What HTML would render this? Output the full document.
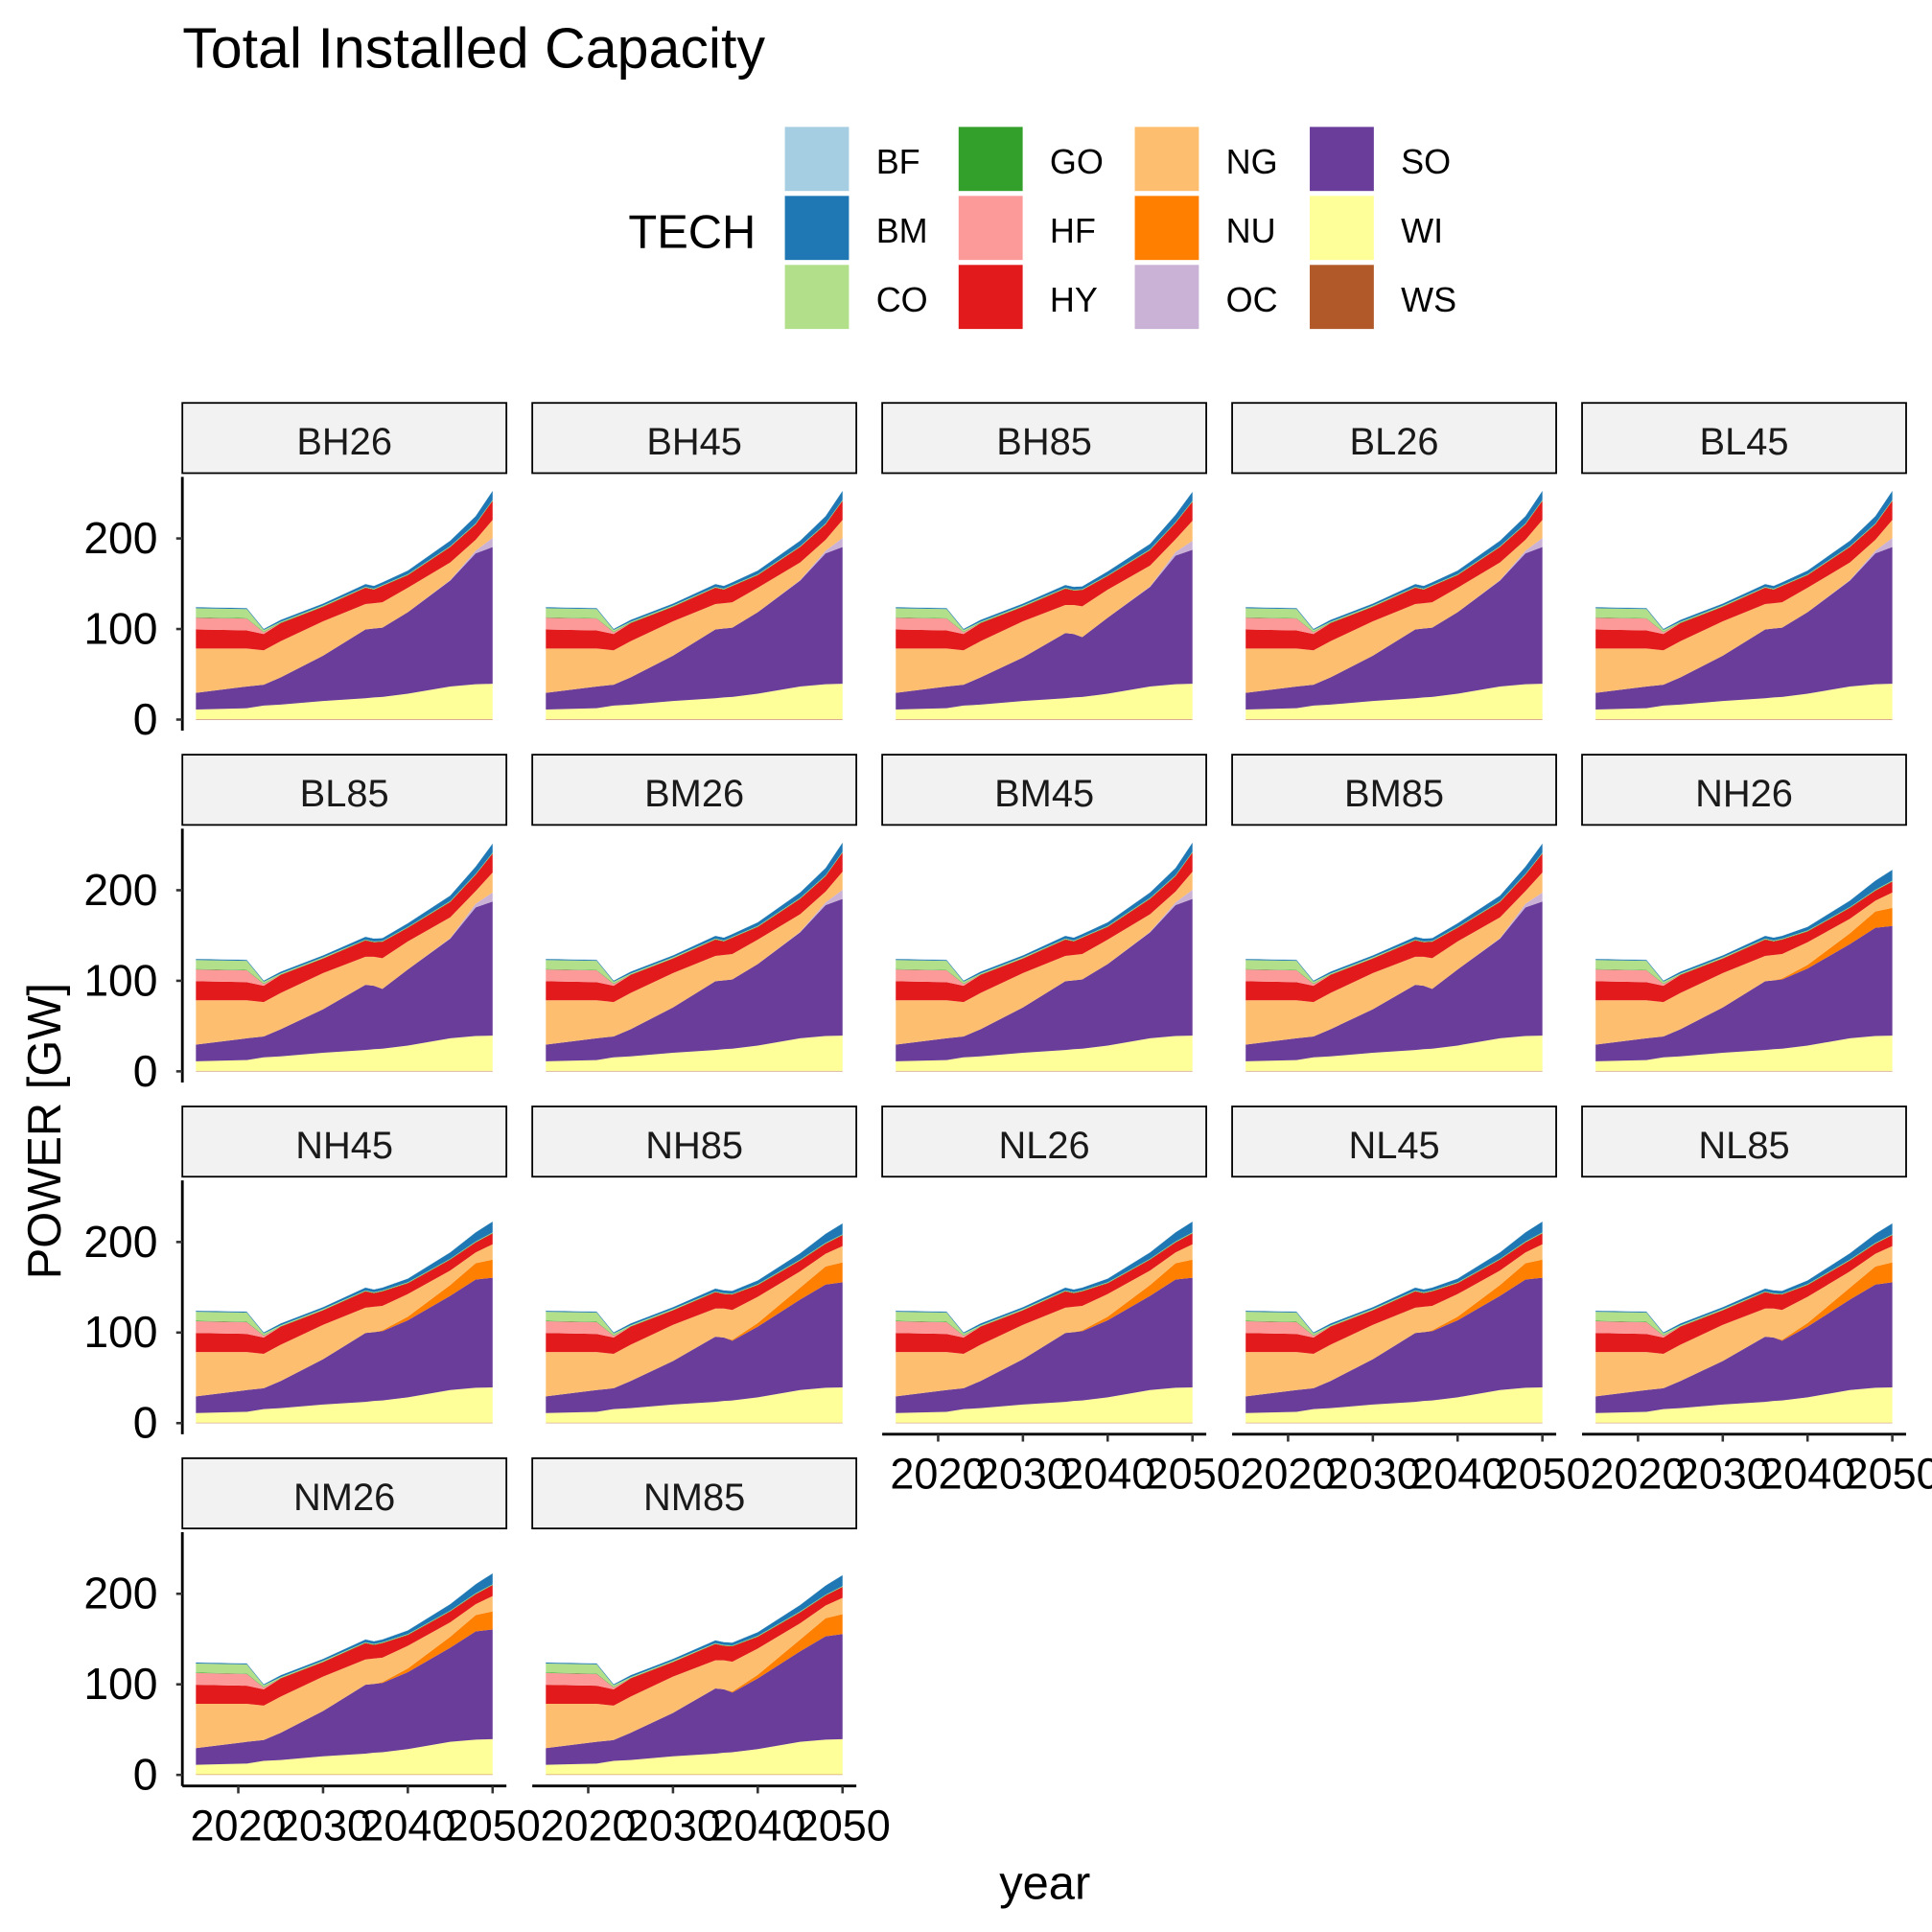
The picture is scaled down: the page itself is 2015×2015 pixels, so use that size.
<!DOCTYPE html>
<html><head><meta charset="utf-8"><style>
html,body{margin:0;padding:0;background:#fff}
svg{display:block;font-family:"Liberation Sans",Arial,sans-serif}
</style></head><body>
<svg id="chart" width="2015" height="2015" viewBox="0 0 1568 1568" xmlns="http://www.w3.org/2000/svg">
<text x="148" y="55" font-size="46" fill="#000">Total Installed Capacity</text>
<g id="legend"></g>
<g id="panels"></g>
<text transform="translate(49,918) rotate(-90)" text-anchor="middle" font-size="38">POWER [GW]</text>
<text x="848" y="1541" text-anchor="middle" font-size="38">year</text>
</svg>
<script>
const years = [2015,2021,2023,2025,2030,2035,2036,2037,2040,2045,2048,2050];
const techs = ["WS","WI","SO","OC","NU","NG","HY","HF","GO","CO","BM","BF"];
const legendOrder = ["BF","BM","CO","GO","HF","HY","NG","NU","OC","SO","WI","WS"];
const colors = {BF:"#a6cee3",BM:"#1f78b4",CO:"#b2df8a",GO:"#33a02c",HF:"#fb9a99",HY:"#e31a1c",NG:"#fdbf6f",NU:"#ff7f00",OC:"#cab2d6",SO:"#6a3d9a",WI:"#ffff99",WS:"#b15928"};
const yTicks = [0,100,200];
const xTicks = [2020,2030,2040,2050];
const scenarios = ["BH26","BH45","BH85","BL26","BL45","BL85","BM26","BM45","BM85","NH26","NH45","NH85","NL26","NL45","NL85","NM26","NM85"];
const scenarioProfile = ["B","B","B85","B","B","B85","B","B","B85","N","N","N85","N","N","N85","N","N85"];
const xAxisPanels = ["NL26","NL45","NL85","NM26","NM85"];

const profB = {
 WS:[0.5,0.5,0.5,0.5,0.5,0.5,0.5,0.5,0.5,0.5,0.5,0.5],
 WI:[10.6,12,15,16,20,23,24,24.5,28,36,38.5,39],
 SO:[18.4,24,23,30,50,76,76,76.5,90,117,144.5,151],
 OC:[0,0,0,0,0,0,0,0,0,0.5,3,10],
 NU:[0,0,0,0,0,0,0,0,0,0,0,0],
 NG:[49,42,38,40,38,28,28,28,27,19.5,12,20],
 HY:[21,20,18,20,16,18,15,18,14,17,17,21],
 HF:[13,13,2,0,0,0,0,0,0,0,0,0],
 GO:[0.5,0.5,0.5,0.5,0.5,0.5,0.5,0.5,0.5,0.5,0.5,0.5],
 CO:[10,10,2,1,1,0.5,0.5,0.5,0.5,0.5,0.5,0.5],
 BM:[1,1,1,2,2,3,3,3,4,6,8,10],
 BF:[0.3,0.3,0.3,0.3,0.3,0.3,0.3,0.3,0.3,0.3,0.3,0.3]};
const profB85 = {
 WS:[0.5,0.5,0.5,0.5,0.5,0.5,0.5,0.5,0.5,0.5,0.5,0.5],
 WI:[10.6,12,15,16,20,23,24,24.5,28,36,38.5,39],
 SO:[18.4,24,23,30,48,72,70,66,84,110,142,148],
 OC:[0,0,0,0,0,0,0,0,0,0.5,4,10],
 NU:[0,0,0,0,0,0,0,0,0,0,0,0],
 NG:[49,42,38,40,40,31,32,34,31,23,14,22],
 HY:[21,20,18,20,16,18,16,18,15,17,18,21],
 HF:[13,13,2,0,0,0,0,0,0,0,0,0],
 GO:[0.5,0.5,0.5,0.5,0.5,0.5,0.5,0.5,0.5,0.5,0.5,0.5],
 CO:[10,10,2,1,1,0.5,0.5,0.5,0.5,0.5,0.5,0.5],
 BM:[1,1,1,2,2,3,3,3,4,6,8,10],
 BF:[0.3,0.3,0.3,0.3,0.3,0.3,0.3,0.3,0.3,0.3,0.3,0.3]};
const profN = {
 WS:[0.5,0.5,0.5,0.5,0.5,0.5,0.5,0.5,0.5,0.5,0.5,0.5],
 WI:[10.6,12,15,16,20,23,24,24.5,28,36,38.5,39],
 SO:[18.4,24,23,30,50,76,76,76.5,85,104,119.5,121],
 OC:[0,0,0,0,0,0,0,0,0,0,0,0],
 NU:[0,0,0,0,0,0,0,1,4,12,18,20],
 NG:[49,42,38,40,38,28,28,27,25,16,12,17],
 HY:[21,20,18,20,16,18,15,16,12,12,11,12],
 HF:[13,13,2,0,0,0,0,0,0,0,0,0],
 GO:[0.5,0.5,0.5,0.5,0.5,0.5,0.5,0.5,0.5,0.5,0.5,0.5],
 CO:[10,10,2,1,1,0.5,0.5,0.5,0.5,0.5,0.5,0.5],
 BM:[1,1,1,2,2,3,3,3,4,7,10,12],
 BF:[0.3,0.3,0.3,0.3,0.3,0.3,0.3,0.3,0.3,0.3,0.3,0.3]};
const profN85 = {
 WS:[0.5,0.5,0.5,0.5,0.5,0.5,0.5,0.5,0.5,0.5,0.5,0.5],
 WI:[10.6,12,15,16,20,23,24,24.5,28,36,38.5,39],
 SO:[18.4,24,23,30,48,72,70,66,78,100,114,116],
 OC:[0,0,0,0,0,0,0,0,0,0,0,0],
 NU:[0,0,0,0,0,0,0,1,4,13,20,22],
 NG:[49,42,38,40,40,31,32,33,29,18,14,18],
 HY:[21,20,18,20,16,18,16,17,13,12,11,12],
 HF:[13,13,2,0,0,0,0,0,0,0,0,0],
 GO:[0.5,0.5,0.5,0.5,0.5,0.5,0.5,0.5,0.5,0.5,0.5,0.5],
 CO:[10,10,2,1,1,0.5,0.5,0.5,0.5,0.5,0.5,0.5],
 BM:[1,1,1,2,2,3,3,3,4,7,10,12],
 BF:[0.3,0.3,0.3,0.3,0.3,0.3,0.3,0.3,0.3,0.3,0.3,0.3]};
const profiles = {B:profB,B85:profB85,N:profN,N85:profN85};

const NS="http://www.w3.org/2000/svg";
function mk(tag, attrs, parent){const e=document.createElementNS(NS,tag);for(const k in attrs)e.setAttribute(k,attrs[k]);parent.appendChild(e);return e;}

// legend
const lg=document.getElementById('legend');
const t=mk('text',{x:510,y:201,'font-size':38},lg);t.textContent="TECH";


legendOrder.forEach((k,i)=>{
  const c=Math.floor(i/3), r=i%3;
  const x=[637,778,921,1063][c], y=103+r*56;
  const rc=mk('rect',{x:x,y:y,width:52,height:52,fill:colors[k]},lg);
  
  
  const tx=mk('text',{x:x+74,y:y+38,'font-size':28},lg);tx.textContent=k;
  
  
});

// panels
const pg=document.getElementById('panels');
const ysc=0.735, xsc=6.88;
scenarios.forEach((s,i)=>{
  const c=i%5, r=Math.floor(i/5);
  const left=148+c*284, stripTop=327+r*285.5, y0=584+r*285.5;
  const X=yr=>left+11+(yr-2015)*xsc;
  const Y=v=>y0-v*ysc;
  const g=mk('g',{},pg);
  
  
  const st=mk('rect',{x:left,y:stripTop,width:263,height:57,fill:'#f2f2f2',stroke:'#000','stroke-width':1.4},g);
  
  
  const sl=mk('text',{x:left+131.5,y:stripTop+42,'text-anchor':'middle','font-size':31,fill:'#1a1a1a'},g);sl.textContent=s;
  
  
  const prof=profiles[scenarioProfile[i]];
  let base=years.map(()=>0);
  techs.forEach(k=>{
    const top=base.map((b,j)=>b+prof[k][j]);
    let d='M'+years.map((yr,j)=>X(yr).toFixed(2)+','+Y(top[j]).toFixed(2)).join('L');
    for(let j=years.length-1;j>=0;j--) d+='L'+X(years[j]).toFixed(2)+','+Y(base[j]).toFixed(2);
    d+='Z';
    const p=mk('path',{d:d,fill:colors[k],stroke:'none'},g);
    
    
    base=top;
  });
  if(c===0){
    const ax=mk('line',{x1:left,x2:left,y1:y0-197,y2:y0+9,stroke:'#000','stroke-width':2.2},g);
    
    
    yTicks.forEach(v=>{
      const tk=mk('line',{x1:left-5,x2:left,y1:Y(v),y2:Y(v),stroke:'#333','stroke-width':2},g);
      
      
      const tl=mk('text',{x:left-20,y:Y(v)+12,'text-anchor':'end','font-size':36},g);tl.textContent=v;
      
      
    });
  }
  if(xAxisPanels.includes(s)){
    const ay=y0+9;
    const ax=mk('line',{x1:left,x2:left+263,y1:ay,y2:ay,stroke:'#000','stroke-width':2.2},g);
    
    
    xTicks.forEach(v=>{
      const tk=mk('line',{x1:X(v),x2:X(v),y1:ay,y2:ay+6,stroke:'#333','stroke-width':2},g);
      
      
      const tl=mk('text',{x:X(v),y:ay+44,'text-anchor':'middle','font-size':35},g);tl.textContent=v;
      
      
    });
  }
});
</script>
</body></html>
